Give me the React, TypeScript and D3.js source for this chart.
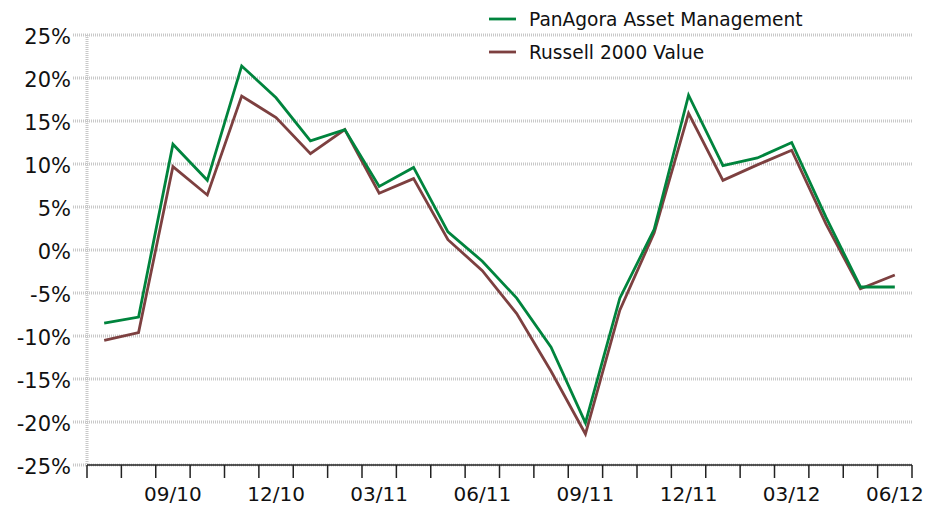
import React, { useRef, useEffect } from 'react';
import * as d3 from 'd3';

const months = [
  "07/10", "08/10", "09/10", "10/10", "11/10", "12/10",
  "01/11", "02/11", "03/11", "04/11", "05/11", "06/11",
  "07/11", "08/11", "09/11", "10/11", "11/11", "12/11",
  "01/12", "02/12", "03/12", "04/12", "05/12", "06/12"
];

const panagora = [
  -8.5, -7.8, 12.3, 8.1, 21.4, 17.7, 12.7, 14.0, 7.4, 9.6, 2.1, -1.3,
  -5.6, -11.3, -20.1, -5.6, 2.4, 18.0, 9.8, 10.7, 12.5, 3.8, -4.3, -4.3
];

const russell = [
  -10.5, -9.6, 9.7, 6.4, 17.9, 15.4, 11.2, 14.0, 6.6, 8.3, 1.2, -2.4,
  -7.4, -14.1, -21.4, -7.0, 2.0, 15.9, 8.1, 9.9, 11.6, 3.0, -4.5, -2.9
];

const yTicks = [25, 20, 15, 10, 5, 0, -5, -10, -15, -20, -25];
const xLabels = ["09/10", "12/10", "03/11", "06/11", "09/11", "12/11", "03/12", "06/12"];

const seriesNames = ["PanAgora Asset Management", "Russell 2000 Value"];
const seriesColors = ["#00843d", "#7d4040"];

export default function App() {
  const svgRef = useRef(null);

  useEffect(() => {
    const width = 925;
    const height = 505;
    const marginTop = 35;
    const marginRight = 13;
    const marginBottom = 40;
    const marginLeft = 87;

    const svg = d3.select(svgRef.current);
    svg.selectAll("*").remove();

    const x = d3.scaleBand()
      .domain(months)
      .range([marginLeft, width - marginRight]);

    const y = d3.scaleLinear()
      .domain([-25, 25])
      .range([height - marginBottom, marginTop]);

    const font = "Verdana, 'DejaVu Sans', sans-serif";

    // horizontal dotted grid
    svg.append("g")
      .selectAll("line")
      .data(yTicks)
      .join("line")
        .attr("x1", marginLeft - 14)
        .attr("x2", width - marginRight)
        .attr("y1", d => y(d))
        .attr("y2", d => y(d))
        .attr("stroke", "#c8c8c8")
        .attr("stroke-width", 3)
        .attr("stroke-dasharray", "1,1");

    // left dotted axis line
    svg.append("line")
      .attr("x1", marginLeft)
      .attr("x2", marginLeft)
      .attr("y1", y(25))
      .attr("y2", y(-25))
      .attr("stroke", "#c8c8c8")
      .attr("stroke-width", 3)
      .attr("stroke-dasharray", "1,1");

    // y labels
    svg.append("g")
      .selectAll("text")
      .data(yTicks)
      .join("text")
        .attr("x", marginLeft - 16)
        .attr("y", d => y(d) + 9)
        .attr("text-anchor", "end")
        .attr("font-family", font)
        .attr("font-size", 21)
        .attr("fill", "#111")
        .text(d => `${d}%`);

    // x axis
    const xAxis = svg.append("g");
    xAxis.append("line")
      .attr("x1", marginLeft)
      .attr("x2", width - marginRight)
      .attr("y1", y(-25))
      .attr("y2", y(-25))
      .attr("stroke", "#222")
      .attr("stroke-width", 1.5);

    const tickPos = months.map(m => x(m)).concat([x(months[months.length - 1]) + x.bandwidth()]);
    xAxis.selectAll("line.tick")
      .data(tickPos)
      .join("line")
        .attr("class", "tick")
        .attr("x1", d => d)
        .attr("x2", d => d)
        .attr("y1", y(-25))
        .attr("y2", y(-25) + 13)
        .attr("stroke", "#222")
        .attr("stroke-width", 1.5);

    xAxis.selectAll("text")
      .data(xLabels)
      .join("text")
        .attr("x", d => x(d) + x.bandwidth() / 2)
        .attr("y", y(-25) + 36)
        .attr("text-anchor", "middle")
        .attr("font-family", font)
        .attr("font-size", 20)
        .attr("fill", "#111")
        .text(d => d);

    // lines
    const line = d3.line()
      .x((d, i) => x(months[i]) + x.bandwidth() / 2)
      .y(d => y(d));

    [russell, panagora].forEach((s, k) => {
      svg.append("path")
        .datum(s)
        .attr("fill", "none")
        .attr("stroke", k === 0 ? seriesColors[1] : seriesColors[0])
        .attr("stroke-width", 2.8)
        .attr("stroke-linejoin", "miter")
        .attr("d", line);
    });

    // legend
    const legend = svg.append("g").attr("transform", "translate(489,19)");
    legend.selectAll("g")
      .data(seriesNames)
      .join("g")
        .attr("transform", (d, i) => `translate(0,${i * 33})`)
        .call(g => g.append("line")
          .attr("x1", 0).attr("x2", 27)
          .attr("y1", 0).attr("y2", 0)
          .attr("stroke", (d, i) => seriesColors[i])
          .attr("stroke-width", 2.8))
        .call(g => g.append("text")
          .attr("x", 40)
          .attr("y", 6.5)
          .attr("font-family", font)
          .attr("font-size", 18.6)
          .attr("fill", "#111")
          .text(d => d));
  }, []);

  return (
    <svg
      ref={svgRef}
      width={925}
      height={505}
      style={{ position: 'absolute', left: 0, top: 0 }}
    />
  );
}
